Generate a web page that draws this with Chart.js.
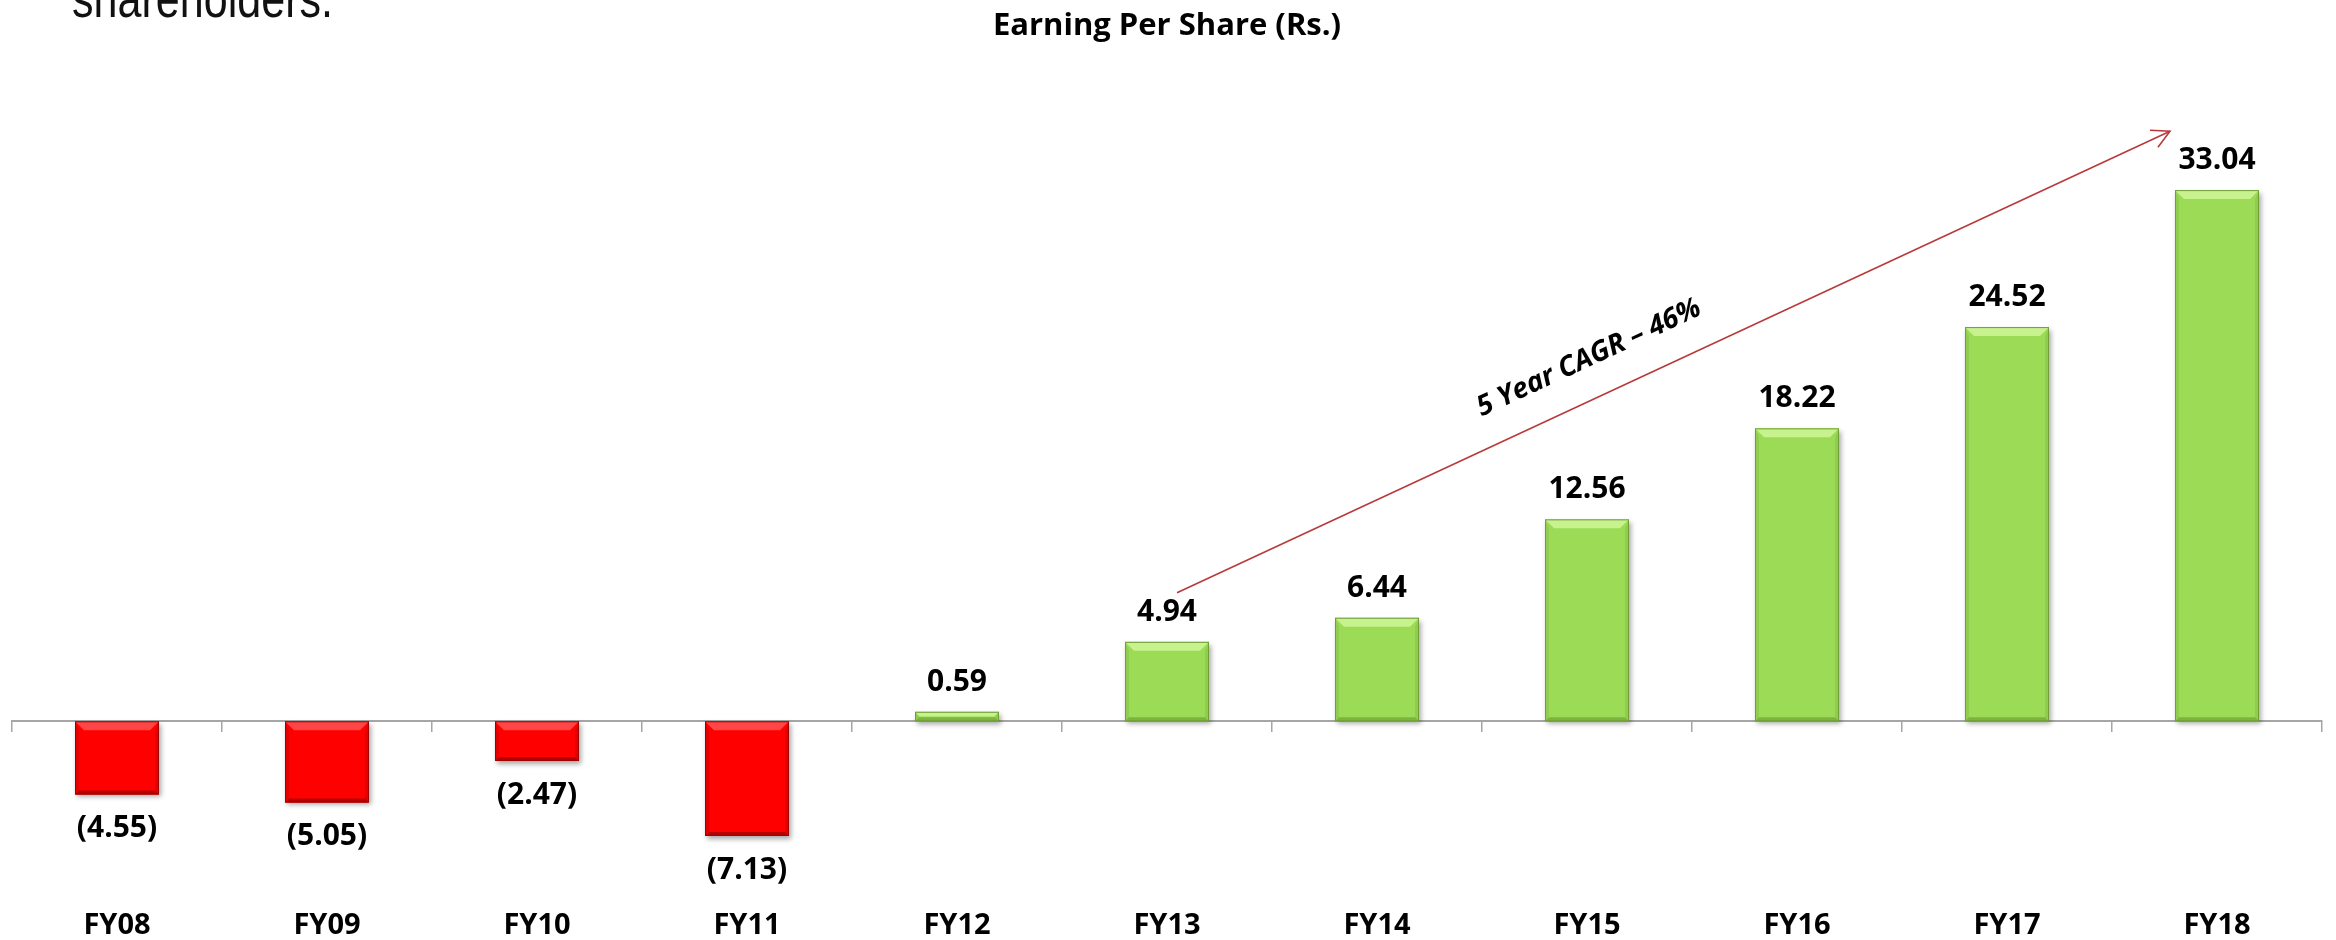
<!DOCTYPE html>
<html>
<head>
<meta charset="utf-8">
<title>Earning Per Share</title>
<script src="https://cdn.jsdelivr.net/npm/chart.js@4.4.1/dist/chart.umd.min.js"></script>
<style>
  html, body { margin: 0; padding: 0; background: #ffffff; }
  canvas { display: block; }
</style>
</head>
<body>
<canvas id="epsChart" width="2336" height="940"></canvas>
<script>
// data
const years = ['FY08', 'FY09', 'FY10', 'FY11', 'FY12', 'FY13', 'FY14', 'FY15', 'FY16', 'FY17', 'FY18'];
const eps = [-4.55, -5.05, -2.47, -7.13, 0.59, 4.94, 6.44, 12.56, 18.22, 24.52, 33.04];
const chartTitle = 'Earning Per Share (Rs.)';
const cagrText = '5 Year CAGR \u2013 46%';
const slideText = 'shareholders.';

const fontFamily = "'Open Sans', 'Liberation Sans', sans-serif";
const green = { fill: '#9bdb56', light: '#c8f28e', dark: '#7cb43e', edge: '#6f9f36' };
const red = { fill: '#ff0000', light: '#ff4646', dark: '#b30000', edge: '#a00000' };

function fmt(v) {
  return v < 0 ? '(' + Math.abs(v).toFixed(2) + ')' : v.toFixed(2);
}

// bevel look, shadow and value labels
const barDecor = {
  id: 'barDecor',
  beforeDatasetsDraw(chart) {
    const ctx = chart.ctx;
    ctx.save();
    ctx.shadowColor = 'rgba(0,0,0,0.35)';
    ctx.shadowBlur = 5;
    ctx.shadowOffsetX = 2;
    ctx.shadowOffsetY = 3;
  },
  afterDatasetsDraw(chart) {
    const ctx = chart.ctx;
    ctx.restore();
    const meta = chart.getDatasetMeta(0);
    meta.data.forEach((bar, i) => {
      const v = eps[i];
      const c = v < 0 ? red : green;
      const p = bar.getProps(['x', 'y', 'base', 'width'], true);
      const left = p.x - p.width / 2, right = p.x + p.width / 2;
      const top = Math.min(p.y, p.base), bottom = Math.max(p.y, p.base);
      const h = bottom - top;
      const b1 = Math.min(9, h / 2), b2 = Math.min(4, h / 2), b3 = Math.min(4, p.width / 2);

      ctx.save();
      // sides
      ctx.fillStyle = c.dark;
      ctx.globalAlpha = 0.35;
      ctx.beginPath();
      ctx.moveTo(left, top); ctx.lineTo(left + b3, top + b1); ctx.lineTo(left + b3, bottom - b2); ctx.lineTo(left, bottom);
      ctx.closePath(); ctx.fill();
      ctx.beginPath();
      ctx.moveTo(right, top); ctx.lineTo(right - b3, top + b1); ctx.lineTo(right - b3, bottom - b2); ctx.lineTo(right, bottom);
      ctx.closePath(); ctx.fill();
      ctx.globalAlpha = 1;
      // top bevel
      ctx.fillStyle = c.light;
      ctx.beginPath();
      ctx.moveTo(left, top); ctx.lineTo(right, top); ctx.lineTo(right - b1, top + b1); ctx.lineTo(left + b1, top + b1);
      ctx.closePath(); ctx.fill();
      // bottom rim
      ctx.fillStyle = c.dark;
      ctx.beginPath();
      ctx.moveTo(left, bottom); ctx.lineTo(right, bottom); ctx.lineTo(right - b2, bottom - b2); ctx.lineTo(left + b2, bottom - b2);
      ctx.closePath(); ctx.fill();
      // outline
      ctx.strokeStyle = c.edge;
      ctx.lineWidth = 1;
      ctx.strokeRect(left + 0.5, top + 0.5, p.width - 1, Math.max(h - 1, 0));
      ctx.restore();

      // value label
      ctx.save();
      ctx.fillStyle = '#000000';
      ctx.font = 'bold 30px ' + fontFamily;
      ctx.textAlign = 'center';
      ctx.textBaseline = 'alphabetic';
      if (v < 0) {
        ctx.fillText(fmt(v), p.x, bottom + 43);
      } else {
        ctx.fillText(fmt(v), p.x, top - 21);
      }
      ctx.restore();
    });
  }
};

// CAGR arrow, its caption and the cut-off slide text
const overlay = {
  id: 'overlay',
  afterDraw(chart) {
    const ctx = chart.ctx;
    const xs = chart.scales.x, ys = chart.scales.y;
    const x0 = xs.getPixelForValue(5) + 10, y0 = ys.getPixelForValue(8.0);
    const x1 = xs.getPixelForValue(10) - 47, y1 = ys.getPixelForValue(36.7);
    const ang = Math.atan2(y1 - y0, x1 - x0);

    ctx.save();
    ctx.strokeStyle = '#b83a3a';
    ctx.lineWidth = 1.6;
    ctx.beginPath();
    ctx.moveTo(x0, y0);
    ctx.lineTo(x1, y1);
    ctx.stroke();
    const wing = 20, spread = 28 * Math.PI / 180;
    ctx.beginPath();
    ctx.moveTo(x1 - wing * Math.cos(ang - spread), y1 - wing * Math.sin(ang - spread));
    ctx.lineTo(x1, y1);
    ctx.lineTo(x1 - wing * Math.cos(ang + spread), y1 - wing * Math.sin(ang + spread));
    ctx.stroke();
    ctx.restore();

    ctx.save();
    ctx.translate(xs.getPixelForValue(7) + 2, ys.getPixelForValue(22.6));
    ctx.rotate(ang);
    ctx.fillStyle = '#000000';
    ctx.font = 'italic bold 28px ' + fontFamily;
    ctx.textAlign = 'center';
    ctx.textBaseline = 'middle';
    ctx.fillText(cagrText, 0, 0);
    ctx.restore();

    ctx.save();
    ctx.font = "53px 'Liberation Sans Narrow', 'Liberation Sans', sans-serif";
    const w = ctx.measureText(slideText).width;
    ctx.translate(72, 17);
    ctx.scale(261 / w, 1);
    ctx.fillStyle = '#111111';
    ctx.textBaseline = 'alphabetic';
    ctx.fillText(slideText, 0, 0);
    ctx.restore();
  }
};

const ctx = document.getElementById('epsChart');

new Chart(ctx, {
  type: 'bar',
  data: {
    labels: years,
    datasets: [{
      label: 'EPS',
      data: eps,
      backgroundColor: eps.map(v => v < 0 ? red.fill : green.fill),
      borderWidth: 0,
      barPercentage: 0.4,
      categoryPercentage: 1
    }]
  },
  options: {
    responsive: false,
    animation: false,
    layout: { padding: { left: 12, right: 14, top: 0, bottom: 0 } },
    plugins: {
      legend: { display: false },
      tooltip: { enabled: false },
      title: {
        display: true,
        text: chartTitle,
        color: '#000000',
        font: { family: fontFamily, weight: 'bold', size: 31 },
        padding: { top: 8, bottom: 33 }
      }
    },
    scales: {
      x: {
        offset: true,
        grid: { display: false, drawTicks: false },
        border: { display: false },
        ticks: {
          color: '#000000',
          padding: 0,
          font: { family: fontFamily, weight: 'bold', size: 29, lineHeight: 1 }
        }
      },
      xZero: {
        type: 'category',
        axis: 'x',
        position: { y: 0 },
        offset: true,
        grid: { offset: true, drawOnChartArea: false, drawTicks: true, tickLength: 10, color: '#a6a6a6', lineWidth: 1.5 },
        border: { color: '#a6a6a6', width: 2 },
        ticks: { display: false }
      },
      y: {
        display: false,
        min: -11.8,
        max: 40
      }
    }
  },
  plugins: [barDecor, overlay]
});
</script>
</body>
</html>
